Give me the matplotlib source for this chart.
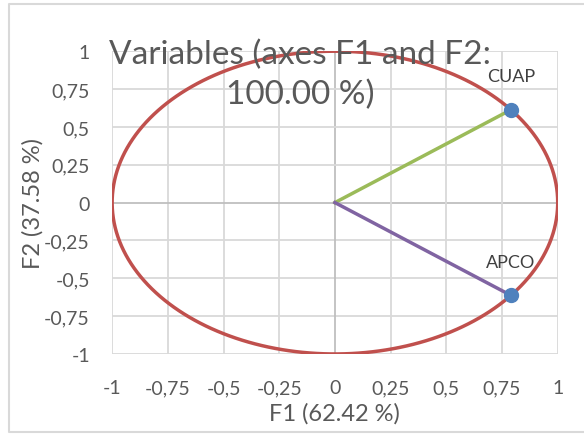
import numpy as np
import matplotlib.pyplot as plt

plt.rcParams['font.family'] = ['Lato', 'DejaVu Sans']

# variable coordinates on the two factors
names = ["CUAP", "APCO"]
f1 = [0.790, 0.790]
f2 = [0.613, -0.613]
line_colors = ["#9BBB59", "#8064A2"]

ticks = [-1, -0.75, -0.5, -0.25, 0, 0.25, 0.5, 0.75, 1]
tick_labels = ["-1", "-0,75", "-0,5", "-0,25", "0", "0,25", "0,5", "0,75", "1"]

fig = plt.figure(figsize=(5.84, 4.35), dpi=100)
ax = fig.add_axes([0.192, 0.184, 0.763, 0.696])

# chart border (right side runs off the image)
W, H = 584, 435
bx = [1.2, 9 / W, 9 / W, 1.2]
by = [1 - 5 / H, 1 - 5 / H, 1 - 433 / H, 1 - 433 / H]
fig.add_artist(plt.Line2D(bx, by, transform=fig.transFigure, color="#D9D9D9", lw=1.5))

for t in ticks:
    c = "#BFBFBF" if t == 0 else "#D9D9D9"
    ax.axhline(t, color=c, lw=1.3, zorder=0)
    ax.axvline(t, color=c, lw=1.3, zorder=0)

# correlation circle
theta = np.linspace(0, 2 * np.pi, 400)
ax.plot(np.cos(theta), np.sin(theta), color="#C0504D", lw=2.5, zorder=2)

for name, x, y, c in zip(names, f1, f2, line_colors):
    ax.plot([0, x], [0, y], color=c, lw=2.5, zorder=3)
    ax.plot(x, y, "o", color="#4F81BD", ms=10, zorder=4)
    ax.annotate(name, (x, y), xytext=(0, 24), textcoords="offset points",
                ha="center", va="center", fontsize=13, color="#404040")

ax.set_xlim(-1, 1)
ax.set_ylim(-1, 1)
ax.set_xticks(ticks)
ax.set_xticklabels(tick_labels)
ax.set_yticks(ticks)
ax.set_yticklabels(tick_labels)
ax.tick_params(length=0, labelsize=14, labelcolor="#595959")
ax.tick_params(axis="x", pad=18)
ax.tick_params(axis="y", pad=16)
for s in ax.spines.values():
    s.set_visible(False)

ax.set_xlabel("F1 (62.42 %)", fontsize=17, color="#595959", va="center")
ax.xaxis.set_label_coords(0.5, -0.195)
ax.set_ylabel("F2 (37.58 %)", fontsize=17, color="#595959", va="center")
ax.yaxis.set_label_coords(-0.178, 0.5)

fig.text(0.514, 0.828, "Variables (axes F1 and F2:\n100.00 %)", ha="center", va="center",
         fontsize=24, color="#595959", linespacing=1.42)

fig.savefig("out.png", dpi=100)
